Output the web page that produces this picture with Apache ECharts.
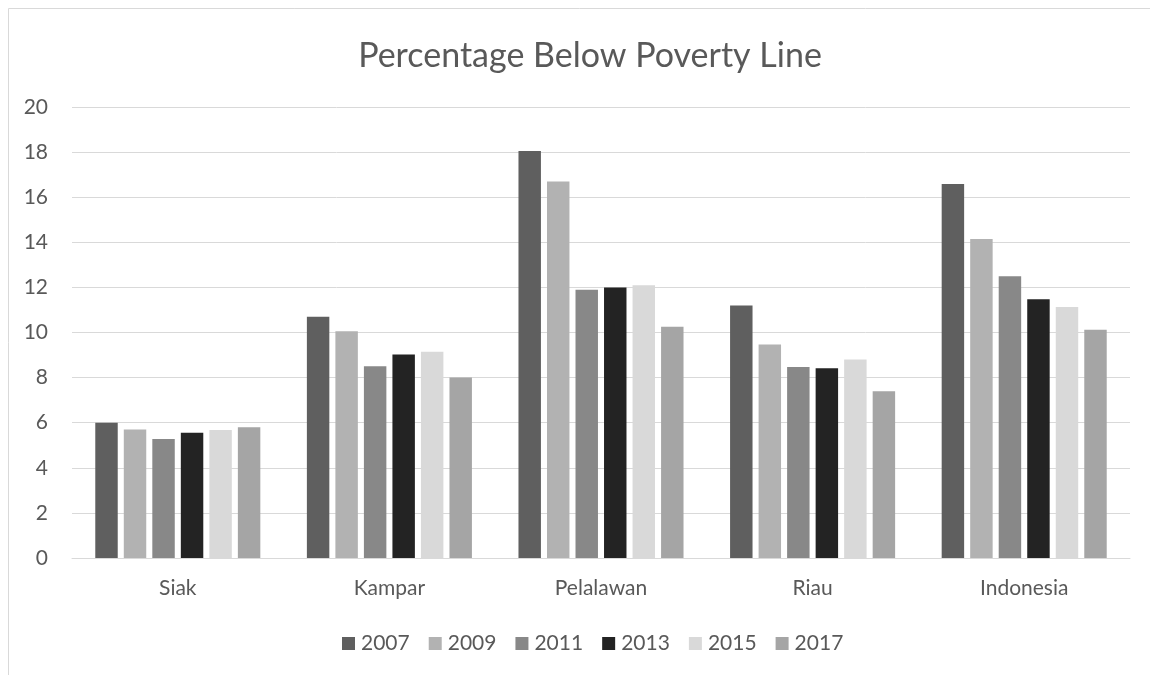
<!DOCTYPE html>
<html>
<head>
<meta charset="utf-8">
<script src="https://cdn.jsdelivr.net/npm/echarts@6/dist/echarts.min.js"></script>
<style>
  html, body { margin: 0; padding: 0; background: #fff; }
  #chart { width: 1150px; height: 675px; }
</style>
</head>
<body>
<div id="chart"></div>
<script>
const regions = ['Siak', 'Kampar', 'Pelalawan', 'Riau', 'Indonesia'];
const years = ['2007', '2009', '2011', '2013', '2015', '2017'];
const yearColors = ['#5f5f5f', '#b2b2b2', '#888888', '#232323', '#d9d9d9', '#a5a5a5'];

// one array per year, in region order
const y2007 = [6.0, 10.7, 18.05, 11.2, 16.58];
const y2009 = [5.7, 10.05, 16.7, 9.47, 14.15];
const y2011 = [5.28, 8.5, 11.9, 8.47, 12.49];
const y2013 = [5.55, 9.02, 12.0, 8.42, 11.47];
const y2015 = [5.68, 9.15, 12.1, 8.8, 11.13];
const y2017 = [5.8, 8.0, 10.25, 7.4, 10.12];
const yearValues = [y2007, y2009, y2011, y2013, y2015, y2017];

const font = 'Lato, "Open Sans", sans-serif';
const textGrey = '#595959';

const chart = echarts.init(document.getElementById('chart'));

const option = {
  animation: false,
  textStyle: { fontFamily: font },
  title: {
    text: 'Percentage Below Poverty Line',
    left: 585,
    textAlign: 'center',
    top: 34,
    textStyle: { fontFamily: font, fontSize: 34, fontWeight: 'normal', color: textGrey }
  },
  graphic: [{
    type: 'rect',
    shape: { x: 8.5, y: 8.5, width: 1160, height: 700 },
    style: { fill: 'none', stroke: '#d9d9d9', lineWidth: 1 },
    silent: true
  }],
  legend: {
    data: years,
    top: 628,
    left: 337,
    itemWidth: 13,
    itemHeight: 13,
    itemGap: 19,
    icon: 'rect',
    textStyle: { fontFamily: font, fontSize: 21, color: textGrey, padding: [0, 0, 0, 1] }
  },
  grid: { left: 72, right: 20, top: 107, bottom: 117 },
  xAxis: {
    type: 'category',
    data: regions,
    axisLine: { lineStyle: { color: '#d9d9d9', width: 1 } },
    axisTick: { show: false },
    axisLabel: { fontFamily: font, fontSize: 21, color: textGrey, margin: 20 }
  },
  yAxis: {
    type: 'value',
    min: 0,
    max: 20,
    interval: 2,
    axisLine: { show: false },
    axisTick: { show: false },
    splitLine: { lineStyle: { color: '#d9d9d9', width: 1 } },
    axisLabel: { fontFamily: font, fontSize: 21, color: textGrey, margin: 24 }
  },
  series: years.map((yr, i) => ({
    name: yr,
    type: 'bar',
    data: yearValues[i],
    barGap: '27%',
    barCategoryGap: '22%',
    itemStyle: { color: yearColors[i] }
  }))
};

chart.setOption(option);
</script>
</body>
</html>
